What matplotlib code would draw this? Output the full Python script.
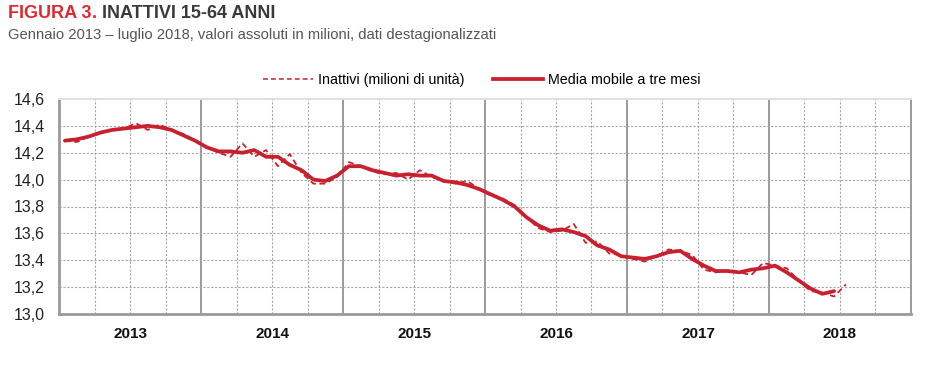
import matplotlib
matplotlib.use("Agg")
import matplotlib.pyplot as plt
from matplotlib.lines import Line2D
import numpy as np
from matplotlib import font_manager

names = {f.name for f in font_manager.fontManager.ttflist}
NARROW = 'Liberation Sans Narrow' if 'Liberation Sans Narrow' in names else 'Liberation Sans'
plt.rcParams['font.family'] = [NARROW, 'DejaVu Sans']

years = ['2013', '2014', '2015', '2016', '2017', '2018']

inattivi = [
    14.29, 14.28, 14.32, 14.35, 14.37, 14.38, 14.42, 14.37, 14.41, 14.37, 14.34, 14.29,   # 2013
    14.24, 14.20, 14.17, 14.27, 14.17, 14.22, 14.10, 14.19, 14.05, 13.97, 13.97, 14.02,   # 2014
    14.13, 14.10, 14.06, 14.04, 14.05, 14.00, 14.07, 14.02, 13.99, 13.97, 13.99, 13.93,   # 2015
    13.88, 13.86, 13.81, 13.72, 13.64, 13.61, 13.62, 13.67, 13.53, 13.54, 13.45, 13.44,   # 2016
    13.41, 13.39, 13.43, 13.48, 13.47, 13.44, 13.33, 13.31, 13.32, 13.31, 13.29, 13.38,   # 2017
    13.36, 13.34, 13.25, 13.17, 13.16, 13.13, 13.22,                                      # 2018
]

media_mobile = [
    14.29, 14.30, 14.32, 14.35, 14.37, 14.38, 14.39, 14.40, 14.39, 14.37, 14.33, 14.29,   # 2013
    14.24, 14.21, 14.21, 14.20, 14.22, 14.17, 14.17, 14.11, 14.07, 14.00, 13.99, 14.03,   # 2014
    14.10, 14.10, 14.07, 14.05, 14.03, 14.04, 14.03, 14.03, 13.99, 13.98, 13.96, 13.93,   # 2015
    13.89, 13.85, 13.80, 13.72, 13.66, 13.62, 13.63, 13.61, 13.58, 13.51, 13.48, 13.43,   # 2016
    13.42, 13.41, 13.43, 13.46, 13.47, 13.41, 13.36, 13.32, 13.32, 13.31, 13.33, 13.34,   # 2017
    13.36, 13.31, 13.25, 13.19, 13.15, 13.17,                                             # 2018
]

yticks = [13.0, 13.2, 13.4, 13.6, 13.8, 14.0, 14.2, 14.4, 14.6]
ytick_labels = ['13,0', '13,2', '13,4', '13,6', '13,8', '14,0', '14,2', '14,4', '14,6']

RED = '#c8202f'
GRID = '#a6a6a6'
DASH = (0, (3.2, 2.0))

fig = plt.figure(figsize=(9.25, 3.73), dpi=100)
ax = fig.add_axes([59/925, 1-314/373, (911-59)/925, (314-99)/373])

n_months = len(years) * 12
ax.set_xlim(-0.5, n_months - 0.5)
ax.set_ylim(13.0, 14.6)

# grid
for m in range(1, n_months):
    xb = m - 0.5
    if m % 12 == 0:
        ax.axvline(xb, color='#9a9a9a', lw=1.4, zorder=1)
    elif m % 3 == 0:
        ax.axvline(xb, color=GRID, lw=0.8, ls=(0, (2, 1.5)), zorder=1)
for yv in yticks[1:-1]:
    ax.axhline(yv, color=GRID, lw=0.8, ls=(0, (2, 1.5)), zorder=1)

ax.plot(np.arange(len(inattivi)), inattivi, color=RED, lw=1.3, ls=DASH, zorder=3)
ax.plot(np.arange(len(media_mobile)), media_mobile, color=RED, lw=2.7, zorder=4,
        solid_capstyle='round', solid_joinstyle='round')

for side in ['left', 'bottom']:
    ax.spines[side].set_color('#9a9a9a')
    ax.spines[side].set_linewidth(2.0)
ax.spines['right'].set_color('#9a9a9a')
ax.spines['right'].set_linewidth(1.4)
ax.spines['top'].set_color('#e0e0e0')
ax.spines['top'].set_linewidth(1.4)

ax.set_yticks(yticks)
ax.set_yticklabels(ytick_labels, fontsize=11.5, color='#222222')
ax.set_xticks([5.5 + 12*k for k in range(len(years))])
ax.set_xticklabels(years, fontsize=11, fontweight='bold', color='#111111')
ax.tick_params(axis='both', length=0)
ax.tick_params(axis='y', pad=10)
ax.tick_params(axis='x', pad=9)

leg = fig.legend(handles=[
    Line2D([], [], color=RED, lw=1.1, ls=DASH),
    Line2D([], [], color=RED, lw=2.7)],
    labels=['Inattivi (milioni di unità)', 'Media mobile a tre mesi'],
    loc='center', bbox_to_anchor=(482/925, 1-80/373), ncol=2, frameon=False,
    fontsize=10.3, handlelength=3.5, handletextpad=0.35, columnspacing=2.0)

TY = 1-14/373
fig.text(8/925, TY, 'FIGURA 3', fontsize=13, fontweight='bold', color='#e0282e',
         va='center', ha='left')
fig.canvas.draw()
r = fig.canvas.get_renderer()
w1 = fig.texts[-1].get_window_extent(r).width
p = fig.text(8/925 + w1/925, TY, '.', fontsize=13, fontweight='bold', color='#e0282e',
             va='center', ha='left')
fig.canvas.draw()
w2 = p.get_window_extent(r).width
fig.text(8/925 + (w1 + w2 + 5)/925, TY, 'INATTIVI 15-64 ANNI', fontsize=13,
         fontweight='bold', color='#3a3a3a', va='center', ha='left')
fig.text(8/925, 1-35/373, 'Gennaio 2013 – luglio 2018, valori assoluti in milioni, dati destagionalizzati',
         fontsize=10.6, color='#555555', va='center', ha='left')

fig.savefig('out.png', dpi=100)
